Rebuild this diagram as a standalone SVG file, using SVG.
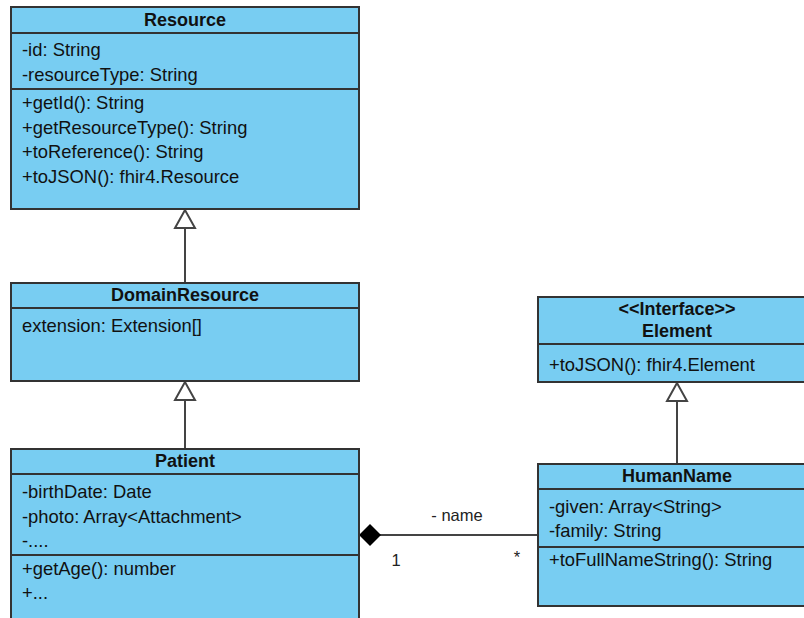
<svg xmlns="http://www.w3.org/2000/svg" width="804" height="618" viewBox="0 0 804 618">
<style>
.box{fill:#78CDF2;stroke:#333;stroke-width:2}
.sep{stroke:#333;stroke-width:2}
.t{font-family:"Liberation Sans",Arial,sans-serif;font-size:18.4px;fill:#111}
.b{font-weight:bold;text-anchor:middle;font-size:18px}
.edge{stroke:#444;stroke-width:2;fill:none}
.tri{fill:#fff;stroke:#444;stroke-width:2}
.lbl{font-family:"Liberation Sans",Arial,sans-serif;font-size:16.5px;fill:#222}
</style>
<rect width="804" height="618" fill="#fff"/>
<g id="connectors">
<line class="edge" x1="185" y1="228" x2="185" y2="283"/>
<polygon class="tri" points="185,210 175,228 195,228"/>
<line class="edge" x1="185" y1="400" x2="185" y2="449"/>
<polygon class="tri" points="185,382 175,400 195,400"/>
<line class="edge" x1="677" y1="401" x2="677" y2="464"/>
<polygon class="tri" points="677,383 667,401 687,401"/>
<line class="edge" x1="380" y1="535" x2="538" y2="535"/>
<polygon points="359,535 370,524 381,535 370,546" fill="#000"/>
<text class="lbl" x="457" y="521" text-anchor="middle">- name</text>
<text class="lbl" x="396" y="566" text-anchor="middle">1</text>
<text class="lbl" x="517" y="563" text-anchor="middle">*</text>
</g>
<g id="Resource">
<rect class="box" x="11" y="7" width="348" height="202"/>
<line class="sep" x1="11" y1="33" x2="359" y2="33"/>
<line class="sep" x1="11" y1="89" x2="359" y2="89"/>
<text class="t b" x="185" y="26">Resource</text>
<text class="t" x="22" y="56">-id: String</text>
<text class="t" x="22" y="81">-resourceType: String</text>
<text class="t" x="22" y="109">+getId(): String</text>
<text class="t" x="22" y="134">+getResourceType(): String</text>
<text class="t" x="22" y="158">+toReference(): String</text>
<text class="t" x="22" y="183">+toJSON(): fhir4.Resource</text>
</g>
<g id="DomainResource">
<rect class="box" x="11" y="283" width="348" height="98"/>
<line class="sep" x1="11" y1="308" x2="359" y2="308"/>
<text class="t b" x="185" y="301">DomainResource</text>
<text class="t" x="22" y="332">extension: Extension[]</text>
</g>
<g id="Patient">
<rect class="box" x="11" y="449" width="348" height="180"/>
<line class="sep" x1="11" y1="474" x2="359" y2="474"/>
<line class="sep" x1="11" y1="555" x2="359" y2="555"/>
<text class="t b" x="185" y="467">Patient</text>
<text class="t" x="22" y="498">-birthDate: Date</text>
<text class="t" x="22" y="523">-photo: Array&lt;Attachment&gt;</text>
<text class="t" x="22" y="547">-....</text>
<text class="t" x="22" y="575">+getAge(): number</text>
<text class="t" x="22" y="599">+...</text>
</g>
<g id="Element">
<rect class="box" x="538" y="297" width="280" height="85"/>
<line class="sep" x1="538" y1="344" x2="818" y2="344"/>
<text class="t b" x="677" y="315">&lt;&lt;Interface&gt;&gt;</text>
<text class="t b" x="677" y="337">Element</text>
<text class="t" x="549" y="371">+toJSON(): fhir4.Element</text>
</g>
<g id="HumanName">
<rect class="box" x="538" y="464" width="280" height="142"/>
<line class="sep" x1="538" y1="489" x2="818" y2="489"/>
<line class="sep" x1="538" y1="547" x2="818" y2="547"/>
<text class="t b" x="677" y="482">HumanName</text>
<text class="t" x="549" y="513">-given: Array&lt;String&gt;</text>
<text class="t" x="549" y="537">-family: String</text>
<text class="t" x="549" y="566">+toFullNameString(): String</text>
</g>
</svg>
